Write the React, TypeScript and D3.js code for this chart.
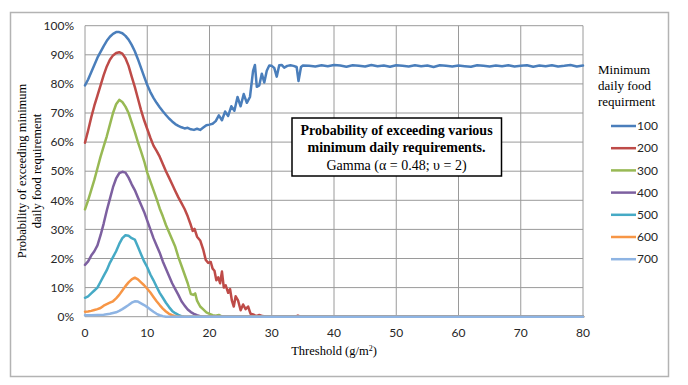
import React from 'react';
import * as d3 from 'd3';

type Pt = [number, number];

// threshold (g/m2), probability (%)
const s100: Pt[] = [
  [0, 79.5], [0.5, 81.5], [1, 84], [1.5, 86.5], [2, 89], [2.5, 91], [3, 93], [3.5, 94.8], [4, 96.2], [4.5, 97.2],
  [5, 97.8], [5.5, 97.8], [6, 97.4], [6.5, 96.5], [7, 95.2], [7.5, 93.4], [8, 91.2], [8.5, 88.5], [9, 85.5], [9.5, 82.5],
  [10, 79.6], [10.5, 77.2], [11, 75.2], [11.5, 73.5], [12, 72], [12.5, 70.6], [13, 69.3], [13.5, 68.1], [14, 67.1], [14.5, 66.2],
  [15, 65.6], [15.5, 65.1], [16, 64.7], [16.5, 64.9], [17, 64.4], [17.5, 64.2], [18, 64.6], [18.5, 64.2], [19, 65.0], [19.5, 65.8],
  [20, 66.0], [20.5, 66.3], [21, 67.2], [21.5, 69.2], [22, 67.5], [22.5, 70.5], [23, 69.0], [23.5, 72.3], [24, 70.8], [24.5, 75.5],
  [25, 72.3], [25.5, 76.5], [26, 73.5], [26.5, 75.5], [27, 84.5], [27.3, 86.5], [27.6, 79], [28, 79.5], [28.4, 83.5], [28.8, 80.5],
  [29.2, 84.5], [29.6, 86.3], [30, 86.2], [30.4, 85.5], [30.8, 82.5], [31.2, 86.4], [31.6, 86.5], [32, 85.6], [32.5, 86.2], [33, 86.4],
  [33.5, 86.2], [34, 85.8], [34.3, 81.0], [34.7, 85.8], [35, 86.3], [36, 86.2], [37, 86.0], [38, 86.4], [39, 86.1], [40, 86.5],
  [41, 86.3], [42, 85.9], [43, 86.4], [44, 86.2], [45, 86.0], [46, 86.5], [47, 86.1], [48, 86.3], [49, 85.9], [50, 86.4],
  [51, 86.2], [52, 86.0], [53, 86.4], [54, 86.1], [55, 86.3], [56, 85.8], [57, 86.4], [58, 86.2], [59, 86.0], [60, 86.3],
  [61, 86.1], [62, 85.9], [63, 86.4], [64, 86.2], [65, 86.0], [66, 86.3], [67, 86.1], [68, 86.4], [69, 86.0], [70, 86.2],
  [71, 86.4], [72, 85.9], [73, 86.3], [74, 86.1], [75, 86.4], [76, 86.0], [77, 86.2], [78, 86.5], [79, 86.0], [80, 86.3],
];

const s200: Pt[] = [
  [0, 59.8], [0.5, 64], [1, 68.5], [1.5, 72.5], [2, 76], [2.5, 79.5], [3, 83], [3.5, 86], [4, 88.3], [4.5, 89.8],
  [5, 90.6], [5.5, 90.9], [6, 90.4], [6.5, 88.8], [7, 86.2], [7.5, 82.5], [8, 79], [8.5, 75], [9, 71], [9.5, 67.5],
  [10, 64.5], [10.5, 61.5], [11, 58.8], [11.5, 57], [12, 55], [12.5, 52.5], [13, 50], [13.5, 47.8], [14, 45.5], [14.5, 43.2],
  [15, 41], [15.5, 39], [16, 37], [16.5, 34.5], [17, 31.5], [17.3, 29.5], [17.6, 30.2], [18, 27.5], [18.5, 26.2], [19, 23],
  [19.4, 19.5], [19.8, 18.5], [20.2, 18.8], [20.5, 16.5], [20.8, 15.8], [21.1, 12.5], [21.4, 13.5], [21.7, 11.5], [22, 15.5], [22.3, 10],
  [22.6, 10.8], [23, 8.2], [23.3, 9.5], [23.6, 5.5], [23.9, 3.5], [24.2, 7.0], [24.6, 5.5], [25, 2.2], [25.4, 4.2], [25.8, 2.6],
  [26.2, 3.5], [26.6, 1.0], [27, 0.8], [27.5, 0.2], [28, 0.6], [28.5, 0.2], [29, 0.1], [30, 0], [33.8, 0], [34.2, 0.4],
  [34.6, 0], [80, 0],
];

const s300: Pt[] = [
  [0, 36.9], [0.5, 40], [1, 43.5], [1.5, 47], [2, 51], [2.5, 55], [3, 58.5], [3.5, 62], [4, 66], [4.5, 70],
  [5, 73], [5.5, 74.5], [6, 73.8], [6.5, 72.2], [7, 70], [7.5, 66.8], [8, 63.5], [8.5, 60], [9, 56.8], [9.5, 53.5],
  [10, 49.5], [10.5, 46.5], [11, 43.5], [11.5, 40.5], [12, 37.2], [12.5, 34.5], [13, 31.5], [13.5, 29], [14, 26.5], [14.5, 24],
  [15, 20.5], [15.5, 17.5], [16, 14.5], [16.5, 11.5], [17, 7.8], [17.4, 7.5], [17.7, 8.0], [18, 5.5], [18.5, 3.5], [19, 2.5],
  [19.5, 1.5], [20, 1.0], [20.5, 0.5], [21, 0.3], [21.5, 0.6], [22, 0], [80, 0],
];

const s400: Pt[] = [
  [0, 17.8], [0.5, 19], [1, 21], [1.5, 22.5], [2, 24.5], [2.5, 28], [3, 32], [3.5, 36.5], [4, 40.5], [4.5, 44.5],
  [5, 47.5], [5.5, 49.3], [6, 49.8], [6.5, 49.5], [7, 47.8], [7.5, 45.5], [8, 43.5], [8.5, 41], [9, 38.5], [9.5, 36],
  [10, 33], [10.5, 30], [11, 27], [11.5, 24.5], [12, 22], [12.5, 19], [13, 16.5], [13.5, 14], [14, 11.5], [14.5, 9.5],
  [15, 7.5], [15.5, 5.3], [16, 3.8], [16.5, 2.5], [17, 1.6], [17.5, 1.0], [18, 0.5], [18.5, 0.2], [19, 0], [80, 0],
];

const s500: Pt[] = [
  [0, 6.5], [0.5, 7], [1, 8], [1.5, 9], [2, 10], [2.5, 12], [3, 14], [3.5, 16], [4, 18.5], [4.5, 20.5],
  [5, 22.5], [5.5, 25], [6, 27], [6.5, 28], [7, 27.8], [7.5, 27], [8, 26.5], [8.5, 24], [9, 21.5], [9.5, 19],
  [10, 17], [10.5, 14.5], [11, 12.5], [11.5, 10.3], [12, 8.2], [12.5, 6.5], [13, 4.8], [13.5, 3.3], [14, 2.0], [14.5, 1.2],
  [15, 0.6], [15.5, 0.2], [16, 0], [80, 0],
];

const s600: Pt[] = [
  [0, 1.7], [0.5, 1.8], [1, 2.0], [1.5, 2.3], [2, 2.6], [2.5, 3.0], [3, 3.8], [3.5, 4.3], [4, 4.8], [4.5, 5.3],
  [5, 6.3], [5.5, 7.5], [6, 9.0], [6.5, 10.5], [7, 11.8], [7.5, 12.8], [8, 13.4], [8.5, 12.8], [9, 11.8], [9.5, 10.8],
  [10, 9.6], [10.5, 8.3], [11, 6.8], [11.5, 5.3], [12, 4.0], [12.5, 2.8], [13, 1.8], [13.5, 1.0], [14, 0.5], [14.5, 0.2],
  [15, 0], [80, 0],
];

const s700: Pt[] = [
  [0, 0.5], [1, 0.5], [2, 0.6], [3, 0.7], [4, 1.0], [5, 1.5], [5.5, 2.0], [6, 2.6], [6.5, 3.3], [7, 4.0],
  [7.5, 4.8], [8, 5.3], [8.5, 5.2], [9, 4.6], [9.5, 4.0], [10, 3.3], [10.5, 2.5], [11, 1.7], [11.5, 1.0], [12, 0.5],
  [12.5, 0.2], [13, 0], [80, 0],
];

const seriesNames = ['100', '200', '300', '400', '500', '600', '700'];
const seriesData = [s100, s200, s300, s400, s500, s600, s700];
const seriesColors = ['#4a7ebb', '#be4b48', '#98b954', '#7d60a0', '#46aac5', '#f79646', '#8eb4e3'];

const xTicks = [0, 10, 20, 30, 40, 50, 60, 70, 80];
const yTicks = [0, 10, 20, 30, 40, 50, 60, 70, 80, 90, 100];

const W = 688;
const H = 385;
const plot = { left: 85, right: 583, top: 25.7, bottom: 316.7 };

const sans = 'Lato, "Open Sans", sans-serif';
const serif = '"Liberation Serif", "Times New Roman", serif';

export default function App() {
  const x = d3.scaleLinear().domain([0, 80]).range([plot.left, plot.right]);
  const y = d3.scaleLinear().domain([0, 100]).range([plot.bottom, plot.top]);
  const line = d3.line<Pt>().x(d => x(d[0])).y(d => y(d[1]));

  const legendX = 611;
  const legendY0 = 126;
  const legendStep = 22.2;

  return (
    <div style={{ position: 'absolute', left: 0, top: 0 }}>
      <svg width={W} height={H} style={{ display: 'block', background: '#fff' }}>
        {/* outer chart frame */}
        <rect x={10.5} y={12.5} width={658} height={364} fill="#fff" stroke="#b3b3b3" strokeWidth={1.5} />

        {/* gridlines */}
        {yTicks.map(t => (
          <line key={'gy' + t} x1={plot.left} x2={plot.right} y1={y(t)} y2={y(t)} stroke="#9a9a9a" strokeWidth={1} />
        ))}
        {xTicks.map(t => (
          <line key={'gx' + t} x1={x(t)} x2={x(t)} y1={plot.top} y2={plot.bottom} stroke="#9a9a9a" strokeWidth={1} />
        ))}

        {/* tick labels */}
        {yTicks.map(t => (
          <text key={'ty' + t} x={74} y={y(t)} dy="0.35em" textAnchor="end" fontFamily={sans} fontSize={12} fill="#262626">
            {t + '%'}
          </text>
        ))}
        {xTicks.map(t => (
          <text key={'tx' + t} x={x(t)} y={333} dy="0.35em" textAnchor="middle" fontFamily={sans} fontSize={12} fill="#262626">
            {t}
          </text>
        ))}

        {/* series */}
        {seriesData.map((s, i) => (
          <path key={seriesNames[i]} d={line(s) || ''} fill="none" stroke={seriesColors[i]} strokeWidth={2.5}
            strokeLinejoin="round" strokeLinecap="round" />
        ))}

        {/* axis titles */}
        <text x={(plot.left + plot.right) / 2} y={355} textAnchor="middle" fontFamily={serif} fontSize={12.5} fill="#000">
          Threshold (g/m<tspan dy={-4} fontSize={8}>2</tspan><tspan dy={4}>)</tspan>
        </text>
        <g transform="translate(0,171) rotate(-90)">
          <text x={0} y={26} textAnchor="middle" fontFamily={serif} fontSize={12.5} fill="#000">Probability of exceeding minimum</text>
          <text x={0} y={41} textAnchor="middle" fontFamily={serif} fontSize={12.5} fill="#000">daily food requirement</text>
        </g>

        {/* annotation box */}
        <rect x={292} y={118} width={209.5} height={58} fill="#fff" stroke="#000" strokeWidth={1.5} />
        <text x={396.5} y={135} textAnchor="middle" fontFamily={serif} fontSize={14} fontWeight="bold" fill="#000">
          Probability of exceeding various
        </text>
        <text x={396.5} y={152} textAnchor="middle" fontFamily={serif} fontSize={14} fontWeight="bold" fill="#000">
          minimum daily requirements.
        </text>
        <text x={396.5} y={170} textAnchor="middle" fontFamily={serif} fontSize={14} fill="#000">
          Gamma (α = 0.48; υ = 2)
        </text>

        {/* legend */}
        <text fontFamily={serif} fontSize={13} fill="#000">
          <tspan x={598} y={74}>Minimum</tspan>
          <tspan x={598} y={90}>daily food</tspan>
          <tspan x={598} y={105.5}>requirment</tspan>
        </text>
        {seriesNames.map((n, i) => (
          <g key={'lg' + n} transform={`translate(0,${legendY0 + i * legendStep})`}>
            <line x1={legendX} x2={legendX + 25} y1={0} y2={0} stroke={seriesColors[i]} strokeWidth={2.5} />
            <text x={legendX + 26} y={0} dy="0.35em" fontFamily={sans} fontSize={12} fill="#262626">{n}</text>
          </g>
        ))}
      </svg>
    </div>
  );
}
